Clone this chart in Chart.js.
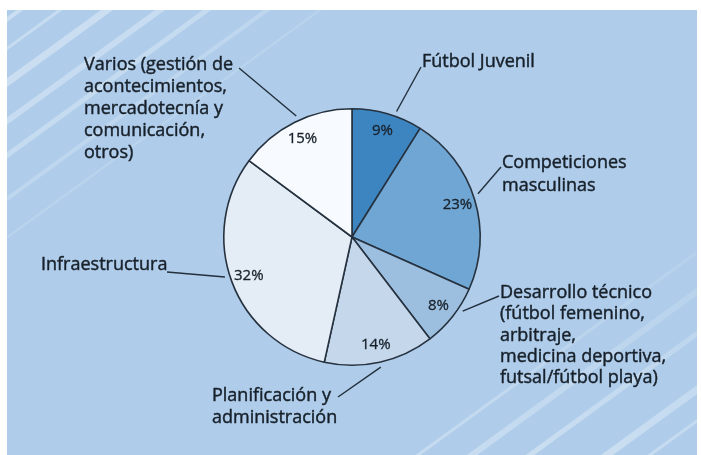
<!DOCTYPE html>
<html>
<head>
<meta charset="utf-8">
<script src="https://cdn.jsdelivr.net/npm/chart.js@4.4.1/dist/chart.umd.min.js"></script>
<style>
    html, body { margin: 0; padding: 0; background: #ffffff; }
    #wrap { width: 701px; height: 455px; position: relative; }
</style>
</head>
<body>
<div id="wrap"><canvas id="grafica-presupuesto" width="701" height="455"></canvas></div>
<script>
// datos del gráfico (porcentajes)
var categorias = [
    'Fútbol Juvenil',
    'Competiciones masculinas',
    'Desarrollo técnico',
    'Planificación y administración',
    'Infraestructura',
    'Varios'
];
var valores = [9, 23, 8, 14, 32, 15];
var etiquetasValor = ['9%', '23%', '8%', '14%', '32%', '15%'];
var colores = ['#3d85c1', '#70a6d3', '#9dbfdf', '#c5d8eb', '#e4edf6', '#f7fafe'];

// textos de las etiquetas exteriores (una línea por elemento)
var textosExteriores = [
    ['Fútbol Juvenil'],
    ['Competiciones', 'masculinas'],
    ['Desarrollo técnico', '(fútbol femenino,', 'arbitraje,', 'medicina deportiva,', 'futsal/fútbol playa)'],
    ['Planificación y', 'administración'],
    ['Infraestructura'],
    ['Varios (gestión de', 'acontecimientos,', 'mercadotecnía y', 'comunicación,', 'otros)']
];

// posición de cada etiqueta exterior: x,y del texto, interlineado, extremo de la guía y ajuste de ángulo
var posEtiquetas = [
    {x: 422, y: 62, h: 22, lx: 421, ly: 67, da: 3.5},
    {x: 502, y: 163, h: 22.5, lx: 501, ly: 167, da: -2},
    {x: 500, y: 293, h: 21.3, lx: 499, ly: 296, da: -4.5},
    {x: 212, y: 396, h: 22, lx: 338, ly: 397, da: 0},
    {x: 41, y: 265, h: 22, lx: 167, ly: 272, da: 3},
    {x: 84, y: 65, h: 22, lx: 239, ly: 68, da: 2}
];

var FUENTE = '"Open Sans", "Noto Sans", sans-serif';

// fondo azul con franjas diagonales
var fondoPlugin = {
    id: 'fondo',
    beforeDraw: function (chart) {
        var ctx = chart.ctx;
        ctx.save();
        ctx.fillStyle = '#ffffff';
        ctx.fillRect(0, 0, 701, 455);
        ctx.fillStyle = '#afcdea';
        ctx.fillRect(7, 10, 690, 445);
        ctx.beginPath();
        ctx.rect(7, 10, 690, 445);
        ctx.clip();

        var ang = 36 * Math.PI / 180;
        var dx = Math.cos(ang), dy = -Math.sin(ang);
        // franjas arriba a la izquierda (x en el borde superior)
        var arriba = [[20, 4, 0.35], [60, 3, 0.3], [107, 7, 0.35], [160, 6, 0.3], [207, 5, 0.28], [267, 4, 0.2], [320, 2, 0.15]];
        arriba.forEach(function (f) {
            ctx.strokeStyle = 'rgba(255,255,255,' + f[2] + ')';
            ctx.lineWidth = f[1];
            ctx.beginPath();
            ctx.moveTo(f[0] + dx * 40, 10 + dy * 40);
            ctx.lineTo(f[0] - dx * 500, 10 - dy * 500);
            ctx.stroke();
        });
        // franjas abajo a la derecha (x en el borde inferior)
        var abajo = [[418, 3, 0.3], [472, 6, 0.3], [530, 5, 0.35], [607, 7, 0.35], [650, 3, 0.3]];
        abajo.forEach(function (f) {
            var g = ctx.createLinearGradient(f[0], 455, f[0] + dx * 380, 455 + dy * 380);
            g.addColorStop(0, 'rgba(255,255,255,' + f[2] + ')');
            g.addColorStop(1, 'rgba(255,255,255,0.05)');
            ctx.strokeStyle = g;
            ctx.lineWidth = f[1];
            ctx.beginPath();
            ctx.moveTo(f[0] - dx * 40, 455 - dy * 40);
            ctx.lineTo(f[0] + dx * 420, 455 + dy * 420);
            ctx.stroke();
        });
        ctx.restore();
    }
};

// porcentajes dentro de cada sector y etiquetas con guía fuera
var etiquetasPlugin = {
    id: 'etiquetas',
    afterDatasetsDraw: function (chart) {
        var ctx = chart.ctx;
        var meta = chart.getDatasetMeta(0);
        ctx.save();
        meta.data.forEach(function (arc, i) {
            var p = arc.getProps(['x', 'y', 'startAngle', 'endAngle', 'outerRadius'], true);
            var medio = (p.startAngle + p.endAngle) / 2;

            // porcentaje
            var rt = p.outerRadius - 18;
            ctx.fillStyle = '#18212b';
            ctx.strokeStyle = '#18212b';
            ctx.lineWidth = 0.3;
            ctx.font = '15px ' + FUENTE;
            ctx.textAlign = 'center';
            ctx.textBaseline = 'middle';
            var tx = p.x + Math.cos(medio) * rt, ty = p.y + Math.sin(medio) * rt;
            ctx.fillText(etiquetasValor[i], tx, ty);
            ctx.strokeText(etiquetasValor[i], tx, ty);

            // guía
            var pos = posEtiquetas[i];
            var a = medio + pos.da * Math.PI / 180;
            var rg = p.outerRadius + 5;
            ctx.strokeStyle = '#232f3c';
            ctx.lineWidth = 1.4;
            ctx.beginPath();
            ctx.moveTo(p.x + Math.cos(a) * rg, p.y + Math.sin(a) * rg);
            ctx.lineTo(pos.lx, pos.ly);
            ctx.stroke();

            // texto exterior (un trazo fino para darle algo más de cuerpo)
            ctx.font = '18px ' + FUENTE;
            ctx.textAlign = 'left';
            ctx.strokeStyle = '#18212b';
            ctx.lineWidth = 0.45;
            textosExteriores[i].forEach(function (linea, n) {
                ctx.fillText(linea, pos.x, pos.y + n * pos.h);
                ctx.strokeText(linea, pos.x, pos.y + n * pos.h);
            });
        });
        ctx.restore();
    }
};

var ctx_pie = document.getElementById('grafica-presupuesto');
var chartPie = new Chart(ctx_pie, {
    type: 'pie',
    data: {
        labels: categorias,
        datasets: [{
            data: valores,
            backgroundColor: colores,
            borderColor: '#26323f',
            borderWidth: 1.6
        }]
    },
    options: {
        responsive: false,
        animation: false,
        layout: {
            padding: {left: 223, right: 220, top: 108, bottom: 89}
        },
        plugins: {
            legend: {display: false},
            tooltip: {enabled: false}
        }
    },
    plugins: [fondoPlugin, etiquetasPlugin]
});
</script>
</body>
</html>
